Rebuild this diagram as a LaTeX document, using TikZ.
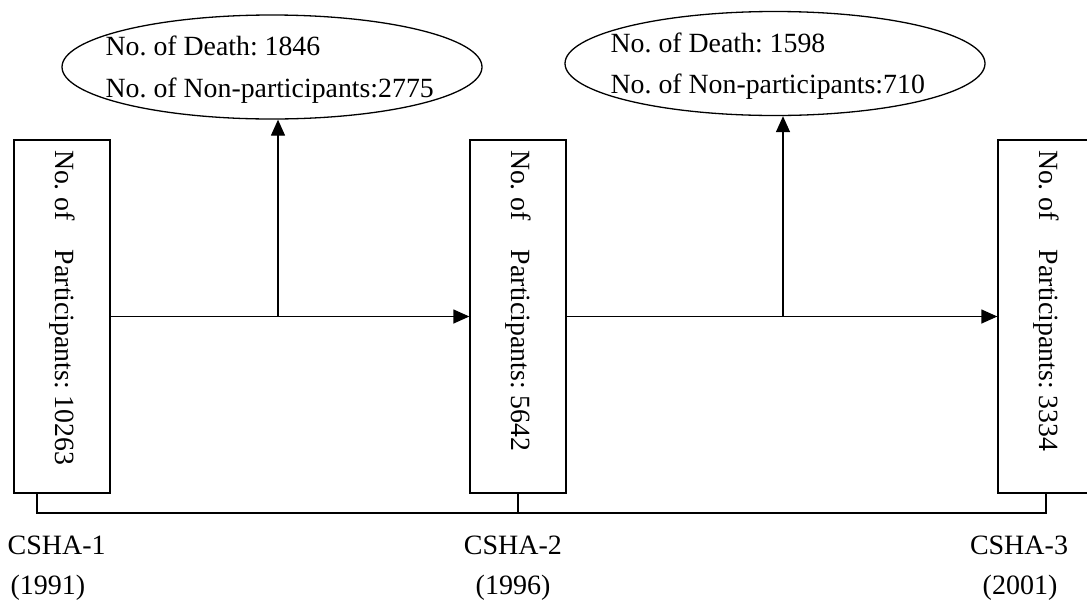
\documentclass[tikz,border=0pt]{standalone}
\usepackage{fontspec}
\setmainfont{Liberation Serif}
\frenchspacing
\usetikzlibrary{shapes.geometric,arrows.meta,calc}
\begin{document}
\begin{tikzpicture}[x=1pt,y=-1pt,line width=1.3pt,
  stage/.style={draw,minimum width=96pt,minimum height=353pt,inner sep=0pt},
  oval/.style={draw,ellipse,minimum width=420pt,minimum height=104pt,inner sep=0pt},
  vtext/.style={rotate=-90,anchor=west,inner sep=0pt,font=\fontsize{27.8}{33}\selectfont},
  etext/.style={anchor=base west,inner sep=0pt,font=\fontsize{27.8}{33}\selectfont},
  lab/.style={inner sep=0pt,font=\fontsize{28}{32}\selectfont},
  arr/.style={-{Triangle[length=16pt,width=14pt]}}]
\useasboundingbox (0,0) rectangle (1087,603);
% stage boxes
\node[stage] (s1) at (62,316.5) {};
\node[stage] (s2) at (518,316.5) {};
\node[stage] (s3) at (1046,316.5) {};
\node[vtext] (t1) at ($(s1.north)+(0,10)$) {No. of\hspace{22pt} Participants: 10263};
\node[vtext] (t2) at ($(s2.north)+(0,10)$) {No. of\hspace{22pt} Participants: 5642};
\node[vtext] (t3) at ($(s3.north)+(0,10)$) {No. of\hspace{22pt} Participants: 3334};
% ellipses
\node[oval] (e1) at (272,67) {};
\node[oval] (e2) at (775,63.5) {};
\node[etext] (d1) at (105,55) {No. of Death: 1846};
\node[etext] (n1) at (105,97) {No. of Non-participants:2775};
\node[etext] (d2) at (610,52) {No. of Death: 1598};
\node[etext] (n2) at (610,93) {No. of Non-participants:710};
% arrows
\draw[arr] (s1.east) -- (s2.west);
\draw[arr] (s2.east) -- (s3.west);
\coordinate (j1) at (278,316.5);
\coordinate (j2) at (783,316.5);
\draw[arr] (j1) -- (j1 |- e1.south);
\draw[arr] (j2) -- (j2 |- e2.south);
% timeline bracket
\coordinate (k1) at (37,513);
\draw (k1 |- s1.south) -- (k1) -- (k1 -| s3.south) -- (s3.south);
\draw (s2.south) -- (s2.south |- k1);
% labels
\node[lab,anchor=base west] (c1) at (7,554) {CSHA-1};
\node[lab,anchor=base west] (y1) at (10,594) {(1991)};
\node[lab,anchor=base] (c2) at (513,554) {CSHA-2};
\node[lab,anchor=base] (y2) at (513,594) {(1996)};
\node[lab,anchor=base] (c3) at (1019,554) {CSHA-3};
\node[lab,anchor=base] (y3) at (1020,594) {(2001)};
\end{tikzpicture}
\end{document}
